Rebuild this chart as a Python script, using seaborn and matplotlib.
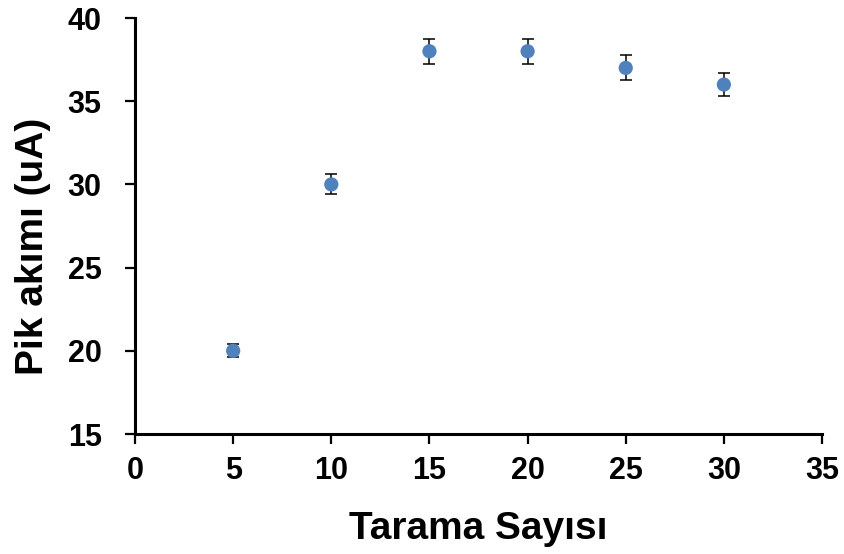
import matplotlib
matplotlib.use("Agg")
import matplotlib.pyplot as plt
import seaborn as sns
import pandas as pd

scans = [5, 10, 15, 20, 25, 30]
current = [20, 30, 38, 38, 37, 36]
errors = [0.4, 0.6, 0.75, 0.75, 0.75, 0.7]
x_ticks = [0, 5, 10, 15, 20, 25, 30, 35]
y_ticks = [15, 20, 25, 30, 35, 40]

sns.set_theme(style="white")
plt.rcParams['font.family'] = ['Liberation Sans', 'DejaVu Sans']

df = pd.DataFrame({"scan": scans, "current": current, "err": errors})

fig = plt.figure(figsize=(8.45, 5.54), dpi=100)
ax = fig.add_axes([0.1598, 0.2166, 0.9728 - 0.1598, 0.9675 - 0.2166])

ax.errorbar(df["scan"], df["current"], yerr=df["err"], fmt="none",
            ecolor="black", elinewidth=1.1, capsize=4.5, capthick=1.1, zorder=2)
sns.scatterplot(data=df, x="scan", y="current", ax=ax, color="#4F81BD",
                s=105, edgecolor="none", zorder=3)

ax.set_xlim(0, 35)
ax.set_ylim(15, 40)
ax.set_xticks(x_ticks)
ax.set_yticks(y_ticks)
for s in ["top", "right"]:
    ax.spines[s].set_visible(False)
for s in ["left", "bottom"]:
    ax.spines[s].set_color("black")
    ax.spines[s].set_linewidth(2.2)
ax.tick_params(axis="both", direction="out", length=7, width=1.6, color="black",
               labelsize=22, labelcolor="black", bottom=True, left=True)
ax.tick_params(axis="y", pad=17)
ax.tick_params(axis="x", pad=9)
for lab in ax.get_xticklabels() + ax.get_yticklabels():
    lab.set_fontweight("bold")
ax.set_xlabel("Tarama Sayısı", fontsize=28, fontweight="bold", labelpad=18,
              color="black")
ax.set_ylabel("Pik akımı (uA)", fontsize=28, fontweight="bold", color="black")
ax.yaxis.set_label_coords(-0.123, 0.45)

fig.savefig("out.png", dpi=100)
